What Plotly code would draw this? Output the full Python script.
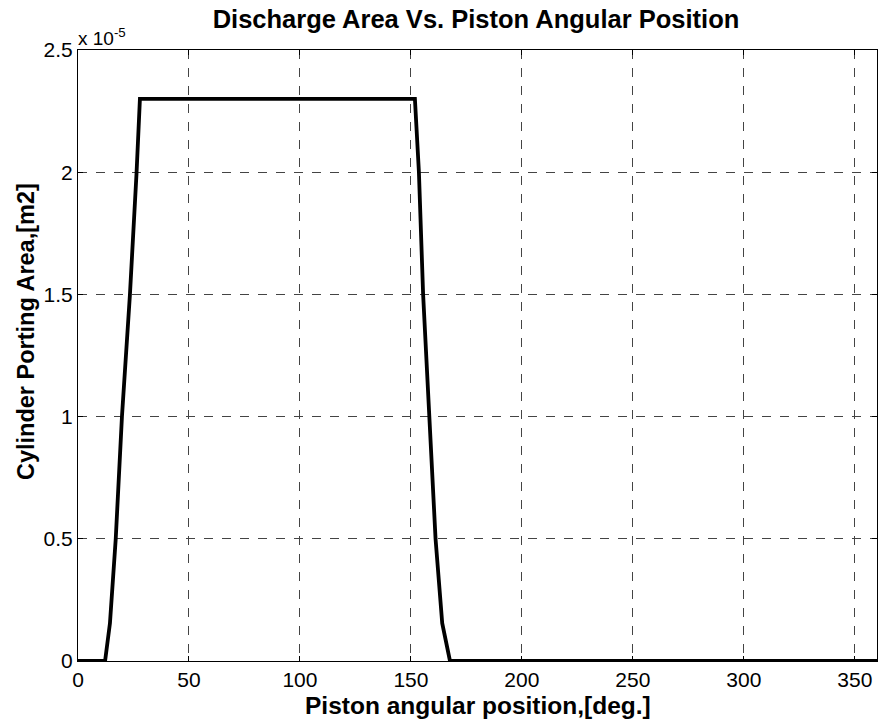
import plotly.graph_objects as go

# Data (angle in degrees, area in m2)
angle_deg = [0, 12.2, 14.4, 17.0, 19.8, 23.4, 26.4, 27.9,
             151.8, 153.6, 155.5, 158.1, 161.1, 164.1, 167.6, 360]
area_m2 = [0, 0, 0.155e-5, 0.5e-5, 1.0e-5, 1.5e-5, 2.0e-5, 2.3e-5,
           2.3e-5, 2.0e-5, 1.5e-5, 1.0e-5, 0.5e-5, 0.155e-5, 0, 0]

x_ticks = [0, 50, 100, 150, 200, 250, 300, 350]
y_tick_vals = [0, 0.5e-5, 1.0e-5, 1.5e-5, 2.0e-5, 2.5e-5]
y_tick_text = ["0", "0.5", "1", "1.5", "2", "2.5"]

font_family = "Liberation Sans, Arial, Helvetica, sans-serif"

fig = go.Figure()
fig.add_trace(go.Scatter(x=angle_deg, y=area_m2, mode="lines",
                         line=dict(color="black", width=3.8),
                         showlegend=False))

fig.update_layout(
    width=879, height=721,
    margin=dict(l=78, r=2, t=50, b=60, autoexpand=False),
    paper_bgcolor="white", plot_bgcolor="white",
    font=dict(family=font_family, color="black"),
    title=dict(text="<b>Discharge Area Vs. Piston Angular Position</b>",
               x=0.5415, xanchor="center", y=0.973, yanchor="middle",
               font=dict(size=25.5, family=font_family, color="black")),
    xaxis=dict(range=[0, 360], tickvals=x_ticks,
               ticks="inside", ticklen=5, tickcolor="black",
               showline=True, linecolor="black", linewidth=1, mirror="ticks",
               showgrid=True, gridcolor="#444444", griddash="dash", gridwidth=1,
               zeroline=False,
               tickfont=dict(size=21, family=font_family, color="black")),
    yaxis=dict(range=[0, 2.5e-5], tickvals=y_tick_vals, ticktext=y_tick_text,
               ticks="inside", ticklen=5, tickcolor="black",
               showline=True, linecolor="black", linewidth=1, mirror="ticks",
               showgrid=True, gridcolor="#444444", griddash="dash", gridwidth=1,
               zeroline=False,
               tickfont=dict(size=21, family=font_family, color="black")),
)

# Axis titles placed as annotations to match the reference positions
fig.add_annotation(text="<b>Piston angular position,[deg.]</b>",
                   xref="paper", yref="paper", x=0.5, y=-0.0735,
                   xanchor="center", yanchor="middle", showarrow=False,
                   font=dict(size=24.5, family=font_family, color="black"))
fig.add_annotation(text="<b>Cylinder Porting Area,[m2]</b>",
                   xref="paper", yref="paper", x=-0.065, y=0.5385,
                   xanchor="center", yanchor="middle", showarrow=False,
                   textangle=-90,
                   font=dict(size=23.5, family=font_family, color="black"))

fig.add_annotation(text="x 10<sup>-5</sup>", xref="paper", yref="paper",
                   x=0.0, y=1.0, xanchor="left", yanchor="bottom",
                   showarrow=False, yshift=-1, xshift=-2,
                   font=dict(size=19, family=font_family, color="black"))

fig.write_html("out.html",
               config={"displayModeBar": False},
               post_script="document.body.style.margin='0px';document.body.style.padding='0px';")
